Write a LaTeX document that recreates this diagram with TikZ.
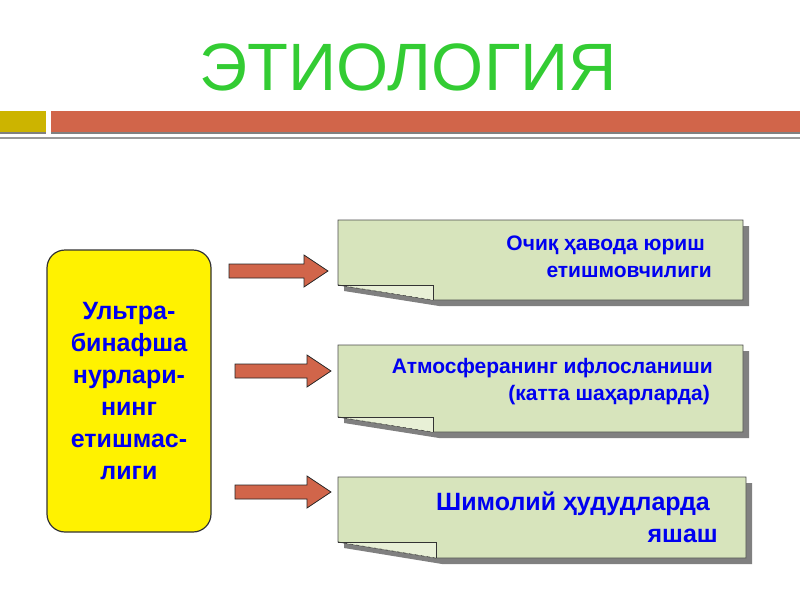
\documentclass[tikz,border=0pt]{standalone}
\usepackage{fontspec}
\setmainfont{Liberation Sans}
\definecolor{titlegreen}{RGB}{51,204,51}
\definecolor{barred}{RGB}{209,101,74}
\definecolor{baryellow}{RGB}{204,180,0}
\definecolor{notegreen}{RGB}{215,228,188}
\definecolor{flapgreen}{RGB}{232,240,214}
\definecolor{textblue}{RGB}{0,0,240}
\definecolor{shadowgray}{RGB}{128,128,128}

\tikzset{
  titletext/.style={text=titlegreen, font=\fontsize{67}{80}\selectfont},
  leftbox/.style={draw=black!80, line width=1.2pt, fill=yellow, rounded corners=18pt,
    minimum width=164pt, minimum height=282pt, align=center, text=textblue,
    font=\bfseries\fontsize{25}{32}\selectfont},
  notetext/.style={align=right, text=textblue, inner sep=0pt,
    font=\bfseries\fontsize{21}{27}\selectfont},
  bignotetext/.style={notetext, font=\bfseries\fontsize{25}{32}\selectfont},
  boxline/.style={draw=black!70, line width=0.8pt},
  arrowline/.style={draw=black!85, line width=0.8pt, fill=barred}
}

\begin{document}
\begin{tikzpicture}[x=1pt,y=-1pt]
\useasboundingbox (0,0) rectangle (800,600);

\node[titletext, anchor=base] (title) at (408,90) {ЭТИОЛОГИЯ};

\fill[shadowgray] (0,132) rectangle (46,134);
\fill[shadowgray] (51,132) rectangle (800,134);
\fill[baryellow] (0,111) rectangle (46,132);
\fill[barred] (51,111) rectangle (800,132);
\fill[shadowgray!80] (0,136.5) rectangle (800,138.5);

\node[leftbox] (uv) at (129,391) {Ультра-\\бинафша\\нурлари-\\нинг\\етишмас-\\лиги};

\foreach \xa/\yy/\xb in {229/271/328, 235/371/331, 235/492/331}
  \draw[arrowline] (\xa,\yy-7) -- (\xb-24,\yy-7) -- (\xb-24,\yy-16) -- (\xb,\yy)
    -- (\xb-24,\yy+16) -- (\xb-24,\yy+7) -- (\xa,\yy+7) -- cycle;

\foreach \ya/\yb/\yc/\fx/\rx in {220/300/285/433/743, 345/432/417/433/743, 477/558/542/436/746}{
  \fill[shadowgray, shift={(6,6)}] (338,\ya) -- (\rx,\ya) -- (\rx,\yb) -- (\fx,\yb) -- (338,\yc) -- cycle;
  \draw[boxline, fill=notegreen] (338,\ya) -- (\rx,\ya) -- (\rx,\yb) -- (\fx,\yb) -- (338,\yc) -- cycle;
  \fill[flapgreen] (338,\yc) -- (\fx,\yc) -- (\fx,\yb) -- cycle;
  \draw[black!80, thin] (338,\yc) -- (\fx,\yc) -- (\fx,\yb);
  \draw[black!80, thin, dashed] (338,\yc) -- (\fx,\yb);
}

\node[notetext, anchor=base east] (t1) at (712,277) {Очиқ ҳавода юриш\kern7pt\\етишмовчилиги};
\node[notetext, anchor=base east] (t2) at (713,400) {Атмосферанинг ифлосланиши\\(катта шаҳарларда)\kern3pt};
\node[bignotetext, anchor=base east] (t3) at (718,542) {Шимолий ҳудудларда\kern8pt\\яшаш};

\end{tikzpicture}
\end{document}
